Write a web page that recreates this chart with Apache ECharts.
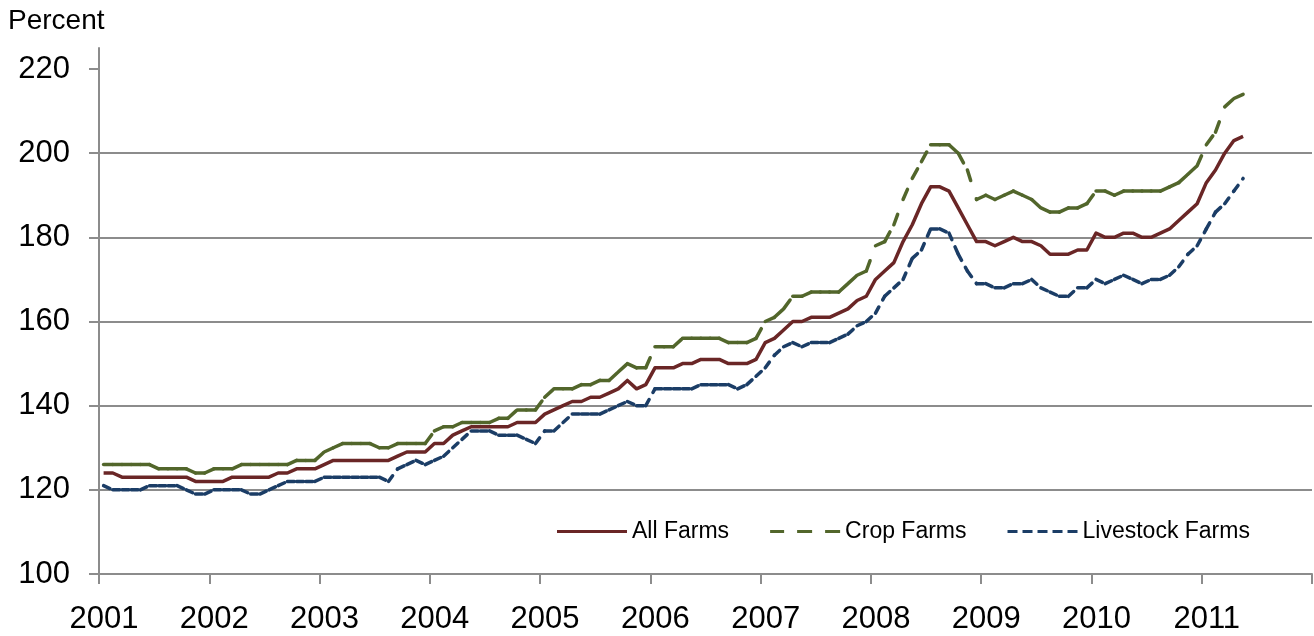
<!DOCTYPE html>
<html>
<head>
<meta charset="utf-8">
<script src="https://cdn.jsdelivr.net/npm/echarts@6/dist/echarts.min.js"></script>
<style>
html,body{margin:0;padding:0;background:#ffffff;}
#c{width:1314px;height:636px;}
</style>
</head>
<body>
<div id="c"></div>
<script>
// Tick labels (years) on the x axis; monthly data Jan 2001 - May 2011
const yearLabels = ['2001','2002','2003','2004','2005','2006','2007','2008','2009','2010','2011'];
const yTicks = [100, 120, 140, 160, 180, 200, 220];
const seriesNames = ['All Farms', 'Crop Farms', 'Livestock Farms'];

const allFarms = [
  124,124,123,123,123,123,123,123,123,123,
  122,122,122,122,123,123,123,123,123,124,
  124,125,125,125,126,127,127,127,127,127,
  127,127,128,129,129,129,131,131,133,134,
  135,135,135,135,135,136,136,136,138,139,
  140,141,141,142,142,143,144,146,144,145,
  149,149,149,150,150,151,151,151,150,150,
  150,151,155,156,158,160,160,161,161,161,
  162,163,165,166,170,172,174,179,183,188,
  192,192,191,187,183,179,179,178,179,180,
  179,179,178,176,176,176,177,177,181,180,
  180,181,181,180,180,181,182,184,186,188,
  193,196,200,203,204
];
const cropFarms = [
  126,126,126,126,126,126,125,125,125,125,
  124,124,125,125,125,126,126,126,126,126,
  126,127,127,127,129,130,131,131,131,131,
  130,130,131,131,131,131,134,135,135,136,
  136,136,136,137,137,139,139,139,142,144,
  144,144,145,145,146,146,148,150,149,149,
  154,154,154,156,156,156,156,156,155,155,
  155,156,160,161,163,166,166,167,167,167,
  167,169,171,172,178,179,183,189,194,198,
  202,202,202,200,196,189,190,189,190,191,
  190,189,187,186,186,187,187,188,191,191,
  190,191,191,191,191,191,192,193,195,197,
  202,205,211,213,214
];
const livestockFarms = [
  121,120,120,120,120,121,121,121,121,120,
  119,119,120,120,120,120,119,119,120,121,
  122,122,122,122,123,123,123,123,123,123,
  123,122,125,126,127,126,127,128,130,132,
  134,134,134,133,133,133,132,131,134,134,
  136,138,138,138,138,139,140,141,140,140,
  144,144,144,144,144,145,145,145,145,144,
  145,147,149,152,154,155,154,155,155,155,
  156,157,159,160,162,166,168,170,175,177,
  182,182,181,176,172,169,169,168,168,169,
  169,170,168,167,166,166,168,168,170,169,
  170,171,170,169,170,170,171,173,176,178,
  182,186,188,191,194
];

const FONT = '"Liberation Sans", Arial, Helvetica, sans-serif';
const GRAY = '#8c8c8c';
const RED = '#6a2626';
const GREEN = '#52662b';
const BLUE = '#1b3d66';
const LW = 3.5;

// monthly points sit in the middle of each month on a month-index axis
function pts(arr) { return arr.map((v, i) => [i + 0.5, v]); }
function segs(arr) {
  const out = [];
  for (let i = 1; i < arr.length; i++) out.push([i - 0.5, arr[i - 1], i + 0.5, arr[i]]);
  return out;
}
// Excel-like dashed line: the dash pattern restarts on every segment
function dashedSeries(name, arr, color, dash) {
  return {
    name: name,
    type: 'custom',
    coordinateSystem: 'cartesian2d',
    data: segs(arr),
    encode: { x: [0, 2], y: [1, 3] },
    itemStyle: { color: color },
    silent: true,
    animation: false,
    renderItem: function (params, api) {
      const a = api.coord([api.value(0), api.value(1)]);
      const b = api.coord([api.value(2), api.value(3)]);
      return {
        type: 'line',
        shape: { x1: a[0], y1: a[1], x2: b[0], y2: b[1] },
        style: { stroke: color, lineWidth: LW, lineDash: dash, lineCap: 'round', fill: null }
      };
    }
  };
}

const chart = echarts.init(document.getElementById('c'), null, { renderer: 'canvas' });
chart.setOption({
  animation: false,
  backgroundColor: '#ffffff',
  title: {
    text: 'Percent', left: 8, top: 7, padding: 0,
    textStyle: { fontFamily: FONT, fontSize: 28, fontWeight: 'normal', color: '#000' }
  },
  legend: {
    left: 557, top: 520, padding: 0,
    itemWidth: 70, itemHeight: 3, itemGap: 41,
    selectedMode: false,
    textStyle: { fontFamily: FONT, fontSize: 23, color: '#000' },
    data: [
      { name: seriesNames[0], icon: 'path://M0,0H70V3H0Z', itemStyle: { color: RED } },
      { name: seriesNames[1], icon: 'path://M0,0H14V3H0Z M27,0H42V3H27Z M55,0H70V3H55Z', itemStyle: { color: GREEN } },
      { name: seriesNames[2], icon: 'path://M0,0H10V3H0Z M15,0H25V3H15Z M30,0H40V3H30Z M45,0H55V3H45Z M60,0H70V3H60Z', itemStyle: { color: BLUE } }
    ]
  },
  grid: { left: 99, right: 2, top: 48, bottom: 62, containLabel: false, outerBoundsMode: 'none' },
  xAxis: {
    type: 'value', min: 0, max: 132, interval: 12,
    axisLine: { show: true, onZero: false, lineStyle: { color: GRAY, width: 2 } },
    axisTick: { show: true, length: 10, lineStyle: { color: GRAY, width: 2 } },
    splitLine: { show: false },
    axisLabel: {
      margin: 30, fontSize: 31, fontFamily: FONT, color: '#000',
      padding: [0, 0, 0, 10],
      showMinLabel: true, showMaxLabel: true, hideOverlap: false,
      formatter: function (v) { const k = Math.round(v / 12); return k < yearLabels.length ? yearLabels[k] : ''; }
    }
  },
  yAxis: {
    type: 'value', min: 100, max: 225, interval: 20,
    axisLine: { show: true, onZero: false, lineStyle: { color: GRAY, width: 2 } },
    axisTick: { show: true, length: 10, customValues: yTicks, lineStyle: { color: GRAY, width: 2 } },
    splitLine: { show: true, showMaxLine: false, lineStyle: { color: GRAY, width: 2 } },
    axisLabel: {
      margin: 29, fontSize: 31, fontFamily: FONT, color: '#000', customValues: yTicks,
      formatter: function (v) { return yTicks.indexOf(v) >= 0 ? String(v) : ''; }
    }
  },
  series: [
    {
      name: seriesNames[0], type: 'line', data: pts(allFarms),
      symbol: 'none', showSymbol: false, smooth: false,
      lineStyle: { color: RED, width: LW, join: 'round' },
      itemStyle: { color: RED }
    },
    dashedSeries(seriesNames[1], cropFarms, GREEN, [11, 19]),
    dashedSeries(seriesNames[2], livestockFarms, BLUE, [7, 8])
  ]
});
</script>
</body>
</html>
